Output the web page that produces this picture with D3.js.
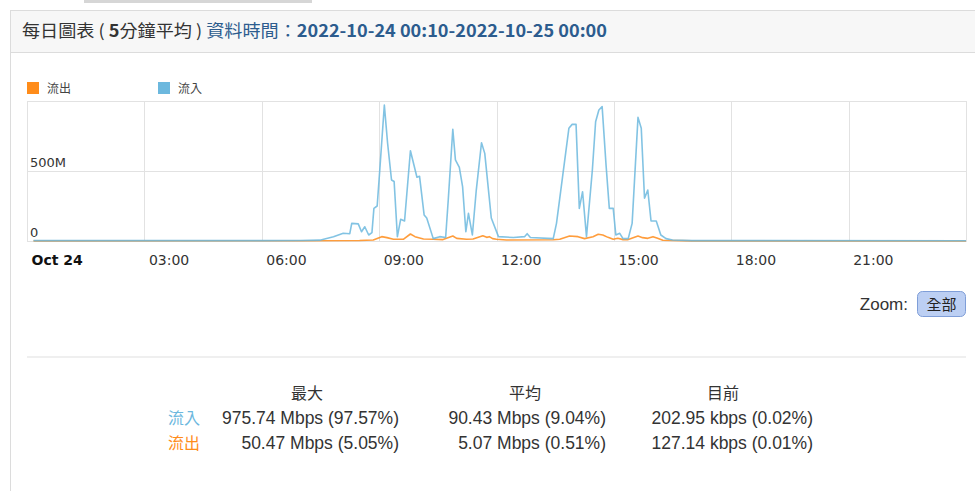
<!DOCTYPE html>
<html>
<head>
<meta charset="utf-8">
<script src="https://cdn.jsdelivr.net/npm/d3@7"></script>
<style>
  body { margin: 0; background: #fff; }
  svg { display: block; }
</style>
</head>
<body>
<div id="chart"></div>
<script>
// inflow (流入), Mbps at its kinks
var inTimes = ['00:10','06:00','06:59','07:29','07:50','08:05','08:15','08:18','08:28','08:33','08:38','08:44','08:49',
  '08:52','08:57','09:01','09:08','09:13','09:19','09:23','09:28','09:33','09:39','09:48','09:58','10:02','10:09',
  '10:13','10:23','10:33','10:42','10:46','10:53','10:57','11:03','11:08','11:13','11:17','11:23','11:29','11:37',
  '11:42','11:52','12:03','12:26','12:43','12:47','12:52','13:27','13:32','13:42','13:51','13:56','14:02','14:07',
  '14:12','14:18','14:27','14:32','14:37','14:42','14:48','14:53','14:59','15:03','15:09','15:14','15:22','15:28',
  '15:37','15:42','15:47','15:52','15:57','16:05','16:12','16:20','16:30','17:00','24:00'];
var inValues = [3,3,4,6,30,55,52,126,122,66,102,43,60,
  233,250,507,971,698,436,425,31,155,143,645,455,462,186,
  164,17,31,25,293,798,579,526,388,66,198,43,364,702,
  626,164,31,25,31,52,25,17,126,483,805,833,833,233,
  352,31,507,852,936,960,543,233,233,43,55,17,17,126,
  883,805,305,364,143,143,43,17,7,3,2];

// outflow (流出), Mbps
var outTimes = ['00:10','07:00','08:30','08:51','09:04','09:12','09:22','09:37','09:48','09:55','10:08','10:23','10:38',
  '10:53','10:59','11:14','11:24','11:39','11:45','11:49','11:54','12:00','12:15','13:27','13:37','13:52','14:05',
  '14:15','14:28','14:36','14:43','14:51','14:59','15:06','15:14','15:21','15:37','15:44','15:52','16:00','16:07',
  '16:15','17:00','24:00'];
var outValues = [1,2,4,7,31,24,12,12,50,31,14,12,10,
  36,19,12,14,38,26,31,17,12,7,9,12,36,31,
  17,31,48,43,26,12,19,10,9,36,24,19,31,19,
  5,1,0];

var seriesNames = ['流出', '流入'];
var seriesColors = ['#ff8c1a', '#6cb8de'];
var xTickLabels = ['Oct 24','03:00','06:00','09:00','12:00','15:00','18:00','21:00'];
var yTicks = [0, 500, 1000];
var yTickLabels = ['0', '500M', ''];

var statHeaders = ['最大', '平均', '目前'];
var statIn = ['975.74 Mbps (97.57%)', '90.43 Mbps (9.04%)', '202.95 kbps (0.02%)'];
var statOut = ['50.47 Mbps (5.05%)', '5.07 Mbps (0.51%)', '127.14 kbps (0.01%)'];

var width = 975, height = 491;
var svg = d3.select('#chart').append('svg').attr('width', width).attr('height', height);

// page frame
svg.append('rect').attr('x', 84).attr('y', 0).attr('width', 228).attr('height', 3).attr('fill', '#d6d6d6');
svg.append('rect').attr('x', 10.5).attr('y', 10.5).attr('width', 975).attr('height', 500)
  .attr('fill', '#fff').attr('stroke', '#dcdcdc');
svg.append('rect').attr('x', 11).attr('y', 11).attr('width', 964).attr('height', 41).attr('fill', '#f7f7f7');
svg.append('line').attr('x1', 11).attr('x2', 975).attr('y1', 52.5).attr('y2', 52.5).attr('stroke', '#dcdcdc');

var title = svg.append('text').attr('x', 22).attr('y', 37)
  .attr('font-family', '"Noto Sans CJK TC", "Liberation Sans", sans-serif').attr('font-size', 17)
  .attr('textLength', 585).attr('lengthAdjust', 'spacingAndGlyphs');
title.append('tspan').attr('fill', '#333').text('每日圖表 ( ');
title.append('tspan').attr('fill', '#333').attr('font-weight', 'bold').text('5');
title.append('tspan').attr('fill', '#333').text('分鐘平均 ) ');
title.append('tspan').attr('fill', '#2c5c8e').text('資料時間：');
title.append('tspan').attr('fill', '#2c5c8e').attr('font-weight', 'bold').text('2022-10-24 00:10-2022-10-25 00:00');

// chart
var parse = function (s) {
  var p = s.split(':');
  return new Date(2022, 9, 24, +p[0], +p[1]);
};
var inData = inTimes.map(function (t, i) { return { t: parse(t), v: inValues[i] }; });
var outData = outTimes.map(function (t, i) { return { t: parse(t), v: outValues[i] }; });

var plot = { left: 27, right: 966, top: 101, bottom: 241 };
var xScale = d3.scaleTime()
  .domain([new Date(2022, 9, 24, 0, 0), new Date(2022, 9, 25, 0, 0)])
  .range([plot.left, plot.right]);
var yScale = d3.scaleLinear().domain([0, 1000]).range([plot.bottom, plot.top]);

var xTicks = d3.range(0, 25, 3).map(function (h) { return new Date(2022, 9, 24, h, 0); });

var grid = svg.append('g').attr('stroke', '#e2e2e2').attr('stroke-width', 1);
grid.selectAll('.vg').data(xTicks).enter().append('line')
  .attr('x1', function (d) { return Math.round(xScale(d)) + 0.5; })
  .attr('x2', function (d) { return Math.round(xScale(d)) + 0.5; })
  .attr('y1', plot.top).attr('y2', plot.bottom);
grid.selectAll('.hg').data(yTicks).enter().append('line')
  .attr('x1', plot.left).attr('x2', plot.right + 1)
  .attr('y1', function (d) { return Math.round(yScale(d)) + 0.5; })
  .attr('y2', function (d) { return Math.round(yScale(d)) + 0.5; });

svg.selectAll('.ylab').data(yTicks).enter().append('text')
  .attr('x', 30).attr('y', function (d) { return yScale(d) - 4; })
  .attr('font-family', '"DejaVu Sans", sans-serif').attr('font-size', 13).attr('fill', '#333')
  .text(function (d, i) { return yTickLabels[i]; });

var xAxis = d3.axisBottom(xScale).tickValues(xTicks.slice(0, 8)).tickSize(0)
  .tickFormat(function (d, i) { return xTickLabels[i]; });
var xg = svg.append('g').attr('transform', 'translate(0,' + (plot.bottom + 10) + ')').call(xAxis);
xg.select('.domain').remove();
xg.selectAll('text')
  .attr('text-anchor', 'start').attr('dx', 4).attr('dy', 0).attr('y', 14)
  .attr('font-family', '"DejaVu Sans", sans-serif').attr('font-size', 14)
  .attr('font-weight', function (d, i) { return i === 0 ? 'bold' : null; })
  .attr('fill', function (d, i) { return i === 0 ? '#111' : '#333'; });

var line = d3.line()
  .x(function (d) { return xScale(d.t); })
  .y(function (d) { return yScale(d.v); });

[outData, inData].forEach(function (data, i) {
  svg.append('path').datum(data)
    .attr('fill', 'none')
    .attr('stroke', seriesColors[i])
    .attr('stroke-opacity', 0.85)
    .attr('stroke-width', 1.6)
    .attr('stroke-linejoin', 'round')
    .attr('d', line);
});

// legend
var legendX = [27, 158];
seriesNames.forEach(function (name, i) {
  svg.append('rect').attr('x', legendX[i]).attr('y', 82).attr('width', 12).attr('height', 12)
    .attr('fill', seriesColors[i]);
  svg.append('text').attr('x', legendX[i] + 20).attr('y', 93)
    .attr('font-family', '"Noto Sans CJK TC", sans-serif').attr('font-size', 12).attr('fill', '#444')
    .text(name);
});

// zoom control
svg.append('text').attr('x', 908).attr('y', 310).attr('text-anchor', 'end')
  .attr('font-family', '"Liberation Sans", Arial, sans-serif').attr('font-size', 17).attr('fill', '#333')
  .text('Zoom:');
svg.append('rect').attr('x', 917.5).attr('y', 291.5).attr('width', 48).attr('height', 25).attr('rx', 5)
  .attr('fill', '#bccff3').attr('stroke', '#7f9ed8');
svg.append('text').attr('x', 941.5).attr('y', 310).attr('text-anchor', 'middle')
  .attr('font-family', '"Noto Sans CJK TC", sans-serif').attr('font-size', 15).attr('fill', '#222')
  .text('全部');

// separator
svg.append('rect').attr('x', 27).attr('y', 356).attr('width', 939).attr('height', 2).attr('fill', '#efefef');

// stats table
var headX = [307, 525, 723];
var colRight = [399, 606, 813];
var font = '"Liberation Sans", Arial, sans-serif';
statHeaders.forEach(function (h, i) {
  svg.append('text').attr('x', headX[i]).attr('y', 399).attr('text-anchor', 'middle')
    .attr('font-family', '"Noto Sans CJK TC", sans-serif').attr('font-size', 16).attr('fill', '#333').text(h);
});
[[seriesNames[1], statIn, seriesColors[1], 424], [seriesNames[0], statOut, seriesColors[0], 449]].forEach(function (r) {
  svg.append('text').attr('x', 168).attr('y', r[3])
    .attr('font-family', '"Noto Sans CJK TC", sans-serif').attr('font-size', 16).attr('fill', r[2]).text(r[0]);
  r[1].forEach(function (s, i) {
    svg.append('text').attr('x', colRight[i]).attr('y', r[3]).attr('text-anchor', 'end')
      .attr('font-family', font).attr('font-size', 17.5).attr('fill', '#333').text(s);
  });
});
</script>
</body>
</html>
